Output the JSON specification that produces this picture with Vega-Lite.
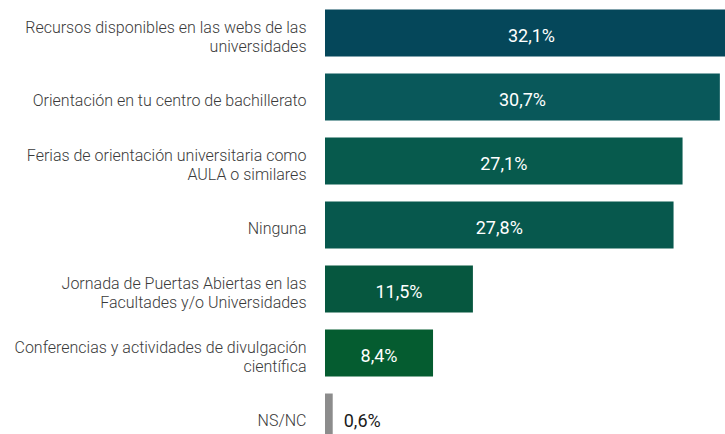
{
  "$schema": "https://vega.github.io/schema/vega-lite/v6.json",
  "autosize": {"type": "none"},
  "width": 400,
  "height": 433,
  "padding": {"left": 325, "top": 1, "right": 0, "bottom": 0},
  "background": "white",
  "config": {"view": {"stroke": null}, "font": "Roboto"},
  "data": {
    "values": [
      {"categoria": "Recursos disponibles en las webs de las\nuniversidades", "valor": 32.1, "etiqueta": "32,1%"},
      {"categoria": "Orientación en tu centro de bachillerato", "valor": 30.7, "etiqueta": "30,7%"},
      {"categoria": "Ferias de orientación universitaria como\nAULA o similares", "valor": 27.8, "etiqueta": "27,1%"},
      {"categoria": "Ninguna", "valor": 27.1, "etiqueta": "27,8%"},
      {"categoria": "Jornada de Puertas Abiertas en las\nFacultades y/o Universidades", "valor": 11.5, "etiqueta": "11,5%"},
      {"categoria": "Conferencias y actividades de divulgación\ncientífica", "valor": 8.4, "etiqueta": "8,4%"},
      {"categoria": "NS/NC", "valor": 0.6, "etiqueta": "0,6%"}
    ]
  },
  "encoding": {
    "y": {
      "field": "categoria",
      "type": "nominal",
      "sort": null,
      "scale": {"paddingInner": 0.266, "paddingOuter": 0.133, "range": [0, 448]},
      "axis": {
        "title": null,
        "domain": false,
        "ticks": false,
        "grid": false,
        "labelExpr": "split(datum.label, '\\n')",
        "labelFont": "Roboto",
        "labelFontWeight": 300,
        "labelFontSize": 16,
        "labelLineHeight": 19,
        "labelColor": "#3a3a3a",
        "labelPadding": 19,
        "labelLimit": 400,
        "labelOffset": {"condition": {"test": "indexof(datum.value, '\\n') >= 0", "value": -5.5}, "value": 4}
      }
    }
  },
  "layer": [
    {
      "mark": {"type": "bar", "clip": true},
      "encoding": {
        "x": {"field": "valor", "type": "quantitative", "scale": {"domain": [0, 31.1], "nice": false, "zero": true}, "axis": null},
        "color": {
          "field": "categoria",
          "type": "nominal",
          "sort": null,
          "legend": null,
          "scale": {"range": ["#05475a", "#09585a", "#075a4d", "#07584d", "#06573f", "#055c30", "#8c8c8c"]}
        }
      }
    },
    {
      "transform": [{"filter": "datum.valor >= 1"}],
      "mark": {"type": "text", "color": "white", "font": "Roboto", "fontSize": 18, "align": "center", "baseline": "middle", "dy": 4},
      "encoding": {
        "x": {"field": "valor", "type": "quantitative", "scale": {"domain": [0, 31.1], "nice": false, "zero": true, "range": [0, 200]}, "axis": null},
        "text": {"field": "etiqueta"}
      }
    },
    {
      "transform": [{"filter": "datum.valor < 1"}],
      "mark": {"type": "text", "color": "#1a1a1a", "font": "Roboto", "fontSize": 18, "align": "left", "baseline": "middle", "dx": 11, "dy": 5},
      "encoding": {
        "x": {"field": "valor", "type": "quantitative", "scale": {"domain": [0, 31.1], "nice": false, "zero": true}, "axis": null},
        "text": {"field": "etiqueta"}
      }
    }
  ],
  "resolve": {"scale": {"x": "independent"}}
}
